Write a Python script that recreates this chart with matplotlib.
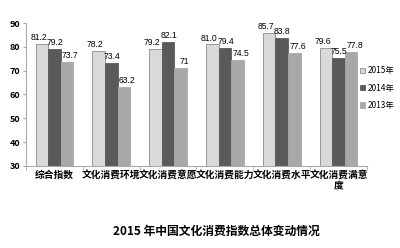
import numpy as np
import matplotlib.pyplot as plt
from matplotlib.ticker import FixedLocator

plt.rcParams['font.family'] = ['Noto Sans CJK SC', 'DejaVu Sans']

# 数据
categories = ['综合指数', '文化消费环境', '文化消费意愿', '文化消费能力', '文化消费水平', '文化消费满意\n度']
years = ['2015年', '2014年', '2013年']
v2015 = [81.2, 78.2, 79.2, 81.0, 85.7, 79.6]
v2014 = [79.2, 73.4, 82.1, 79.4, 83.8, 75.5]
v2013 = [73.7, 63.2, 71, 74.5, 77.6, 77.8]
labels2015 = ['81.2', '78.2', '79.2', '81.0', '85.7', '79.6']
labels2014 = ['79.2', '73.4', '82.1', '79.4', '83.8', '75.5']
labels2013 = ['73.7', '63.2', '71', '74.5', '77.6', '77.8']

colors = ['#d9d9d9', '#5a5a5a', '#a8a8a8']
edges = ['#8c8c8c', '#5a5a5a', '#a8a8a8']

fig = plt.figure(figsize=(4, 2.48), dpi=100)
ax = fig.add_axes([0.065, 0.331, 0.8525, 0.576])

x = np.arange(len(categories))
w = 0.22
nudge = [-0.06, 0.01, 0.06]   # 标签左右微调，避免重叠
series = [(v2015, labels2015), (v2014, labels2014), (v2013, labels2013)]
for i, (vals, labs) in enumerate(series):
    pos = x + (i - 1) * w
    ax.bar(pos, np.array(vals) - 30, w, bottom=30, color=colors[i], edgecolor=edges[i],
           linewidth=0.6, label=years[i])
    for p, v, t in zip(pos, vals, labs):
        ax.text(p + nudge[i], v + 0.8, t, ha='center', va='bottom', fontsize=6.2,
                family=['Liberation Sans', 'DejaVu Sans'])

ax.set_ylim(30, 90)
ax.set_xlim(-0.5, len(categories) - 0.5)
ax.set_yticks(range(30, 91, 10))
ax.set_xticks(x)
ax.set_xticklabels(categories, fontsize=7, fontweight='bold', linespacing=1.1)
ax.xaxis.set_minor_locator(FixedLocator(np.arange(-0.5, len(categories), 1)))
ax.tick_params(axis='x', which='major', length=0, pad=3)
ax.tick_params(axis='x', which='minor', length=3, color='#aaaaaa', direction='out')
ax.tick_params(axis='y', length=2, color='#aaaaaa', labelsize=6.5, pad=2)
for t in ax.get_yticklabels():
    t.set_fontweight('bold')
for s in ['top', 'right']:
    ax.spines[s].set_visible(False)
for s in ['left', 'bottom']:
    ax.spines[s].set_color('#aaaaaa')
    ax.spines[s].set_linewidth(0.8)

ax.legend(loc='upper left', bbox_to_anchor=(0.97, 0.72), frameon=False, fontsize=6,
          handlelength=0.6, handleheight=0.6, handletextpad=0.3, labelspacing=1.0,
          borderaxespad=0)

fig.text(0.54, 0.068, '2015 年中国文化消费指数总体变动情况', ha='center', va='center',
         fontsize=8.5, fontweight='bold')

fig.savefig('out.png', dpi=100)
